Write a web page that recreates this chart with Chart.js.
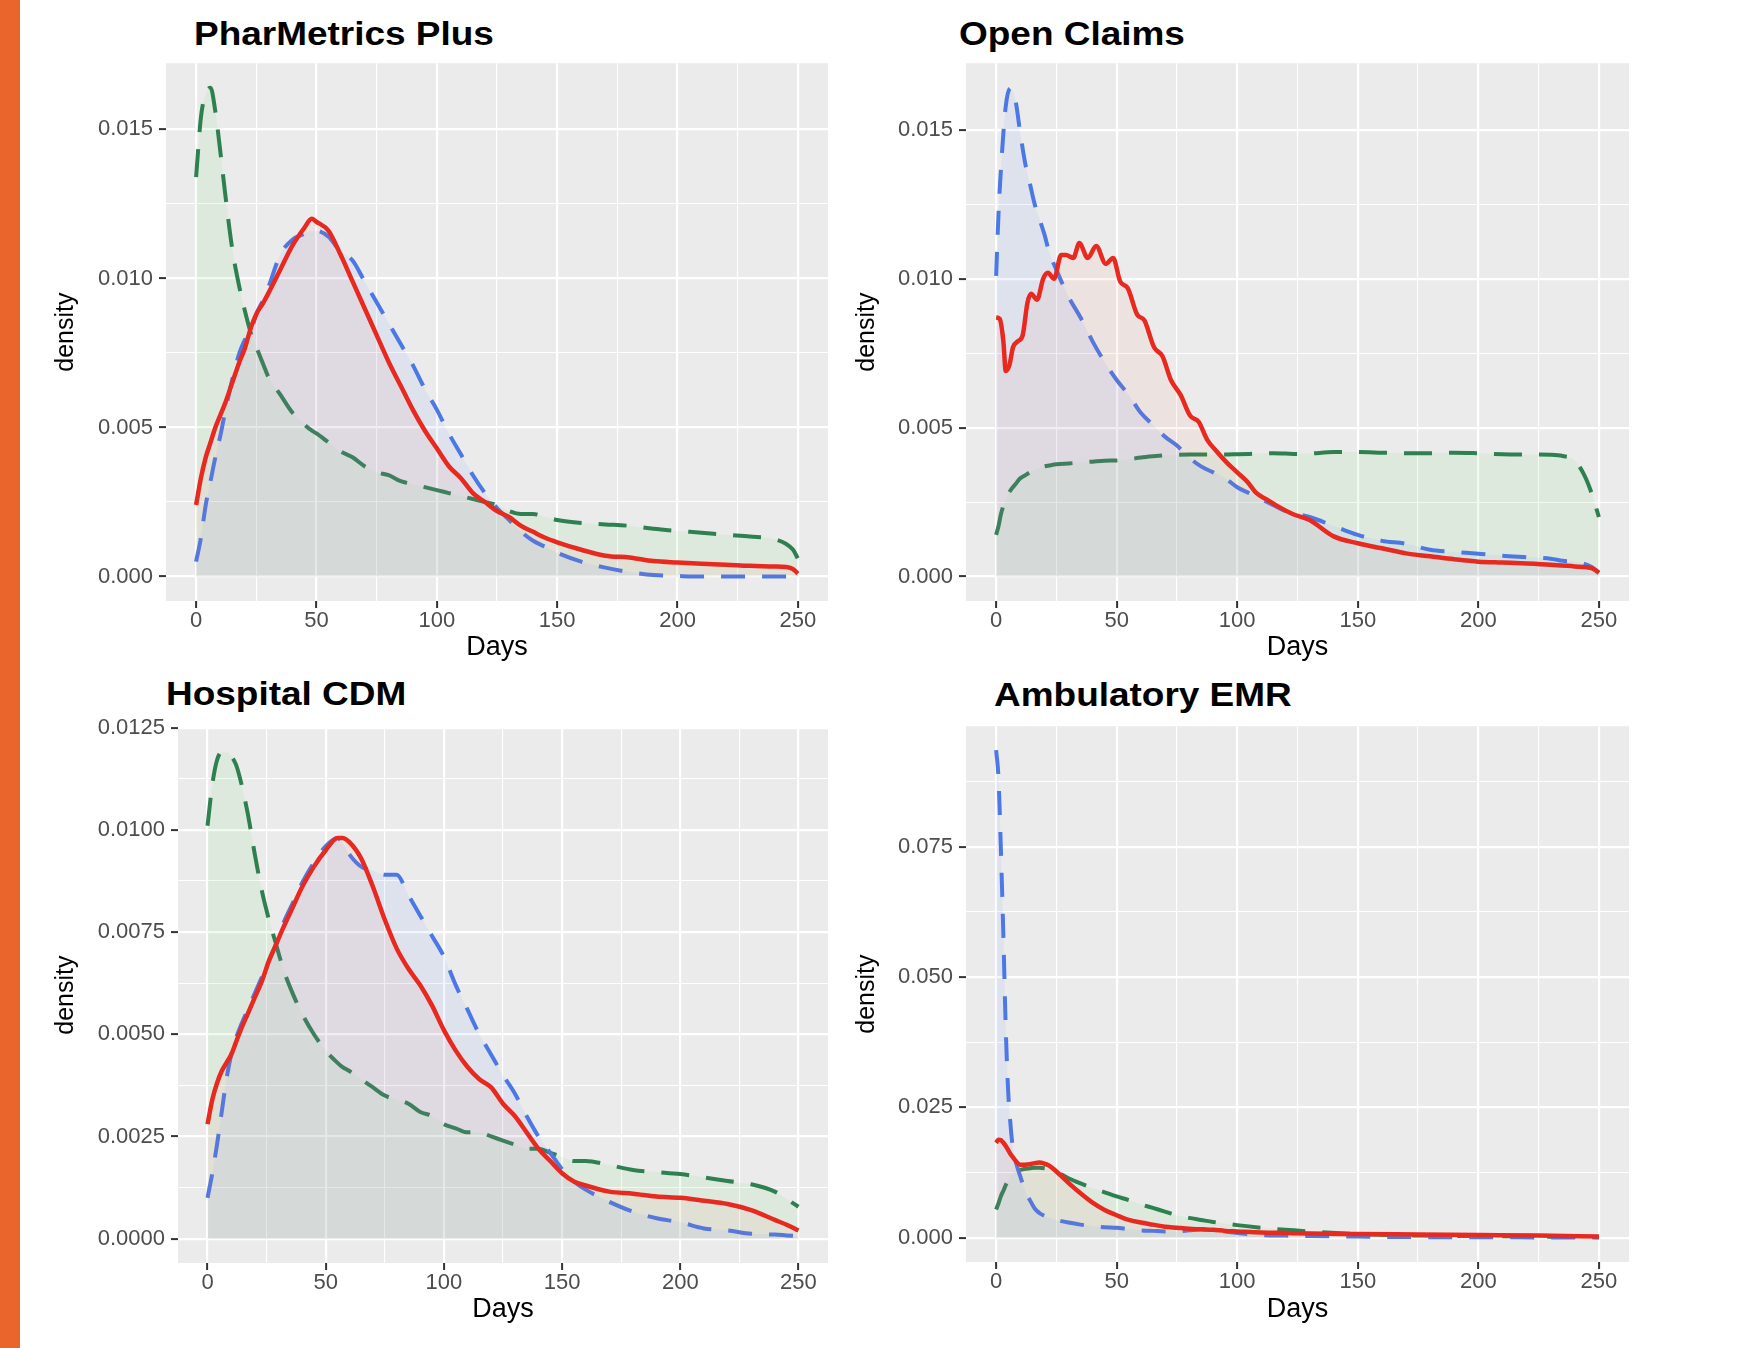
<!DOCTYPE html>
<html>
<head>
<meta charset="utf-8">
<script src="https://cdn.jsdelivr.net/npm/chart.js@4"></script>
<style>
  body { margin: 0; width: 1753px; height: 1348px; background: #fff; position: relative; overflow: hidden;
         font-family: "Liberation Sans", Arial, sans-serif; }
  .bar { position: absolute; left: 0; top: 0; width: 20px; height: 1348px; background: #E8662C; }
  .title { position: absolute; font-weight: bold; font-size: 33px; line-height: 40px; color: #000; white-space: nowrap;
           transform: scaleX(1.12); transform-origin: left center; }
  canvas { position: absolute; }
</style>
</head>
<body>
<div class="bar"></div>
<div class="title" style="left:194px; top:14px;">PharMetrics Plus</div>
<div class="title" style="left:959px; top:14px;">Open Claims</div>
<div class="title" style="left:166px; top:674px;">Hospital CDM</div>
<div class="title" style="left:994px; top:675px;">Ambulatory EMR</div>

<canvas id="c1" width="810" height="626" style="left:30px; top:44px;"></canvas>
<canvas id="c2" width="795" height="626" style="left:845px; top:44px;"></canvas>
<canvas id="c3" width="810" height="624" style="left:30px; top:708px;"></canvas>
<canvas id="c4" width="795" height="625" style="left:845px; top:707px;"></canvas>

<script>
// x axis (same for all four panels)
const xMajor = [0, 50, 100, 150, 200, 250];
const xLabels = ['0', '50', '100', '150', '200', '250'];
const xMinor = [25, 75, 125, 175, 225];

// PharMetrics Plus
const p1Days = [0,2,4,6,8,10,12,15,18,20,23,25,28,30,35,40,45,48,50,55,60,65,70,75,80,85,90,95,100,105,110,115,120,125,130,135,140,145,150,160,170,180,190,200,210,220,230,240,245,248,250];
const p1Red = [0.0024,0.0033,0.0040,0.0045,0.0050,0.0054,0.0058,0.0065,0.0072,0.0076,0.0084,0.0088,0.0092,0.0095,0.0103,0.0111,0.0117,0.0120,0.0119,0.0116,0.0108,0.0099,0.0090,0.0081,0.0072,0.0064,0.0056,0.0049,0.0043,0.0037,0.0033,0.0028,0.0025,0.0022,0.0020,0.0017,0.0015,0.0013,0.00115,0.0009,0.0007,0.00064,0.00052,0.00047,0.00043,0.0004,0.00036,0.00034,0.00032,0.00025,0.0001];
const p1Blue = [0.0005,0.0013,0.0024,0.0032,0.0040,0.0047,0.0055,0.0066,0.0075,0.0079,0.0083,0.0088,0.0093,0.0097,0.0108,0.0113,0.0115,0.0116,0.0116,0.0114,0.0109,0.0106,0.0099,0.0092,0.0085,0.0078,0.0071,0.0063,0.0056,0.0048,0.0041,0.0034,0.0028,0.0023,0.0019,0.0015,0.0012,0.0010,0.0008,0.0005,0.0003,0.00015,0.00005,0.00002,0,0,0,0,0,0,0];
const p1Green = [0.0134,0.0154,0.0162,0.0164,0.0156,0.0143,0.0129,0.0110,0.0097,0.0090,0.0081,0.0077,0.0071,0.0067,0.0061,0.0055,0.0051,0.0049,0.0048,0.0045,0.0042,0.0040,0.0037,0.0035,0.0034,0.0032,0.0031,0.0030,0.0029,0.0028,0.0027,0.0026,0.0025,0.0024,0.0022,0.0021,0.0021,0.0020,0.0019,0.0018,0.00175,0.0017,0.0016,0.00153,0.00147,0.0014,0.00134,0.00126,0.0011,0.0009,0.0006];
const p1YMajor = [0, 0.005, 0.010, 0.015];
const p1YLabels = ['0.000', '0.005', '0.010', '0.015'];
const p1YMinor = [0.0025, 0.0075, 0.0125];

// Open Claims
const p2Days = [0,1,2,4,6,8,10,12,14,16,18,20,22,25,30,35,40,45,50,55,60,65,70,75,80,85,90,95,100,105,110,115,120,125,130,140,150,160,170,180,190,200,210,220,230,235,240,244,247,250];
const p2Blue = [0.0101,0.0122,0.0137,0.0158,0.0164,0.0160,0.0149,0.0139,0.0132,0.0125,0.0120,0.0115,0.0109,0.0103,0.0094,0.0087,0.0079,0.0072,0.0066,0.0061,0.0055,0.0051,0.0047,0.0044,0.0040,0.0037,0.0035,0.0033,0.0030,0.0028,0.0026,0.0024,0.0022,0.0021,0.0020,0.0017,0.0014,0.0012,0.0011,0.0009,0.00083,0.00077,0.0007,0.00065,0.0006,0.00053,0.0005,0.00043,0.00032,0.00014];
const p2Green = [0.0014,0.0017,0.0021,0.0026,0.0029,0.0031,0.0033,0.0034,0.0035,0.0036,0.00365,0.0037,0.00373,0.00377,0.0038,0.00383,0.00386,0.00389,0.0039,0.00394,0.0040,0.00404,0.00407,0.00409,0.0041,0.0041,0.0041,0.0041,0.00411,0.00412,0.00413,0.00414,0.00413,0.00412,0.00413,0.00418,0.00418,0.00416,0.00414,0.00414,0.00416,0.00414,0.00411,0.0041,0.00409,0.00405,0.0039,0.0034,0.0028,0.0020];
const p2RedDays = [0,1.5,3,4,5.5,7,9,11,13,14.5,17,19.5,21.5,24,27,29,32,34.5,38,41.5,45.5,48.5,51.5,54.5,58.5,61.5,65.5,69,72.5,76.5,80.5,84,87.5,91.5,96,100,104,108,112,116,123,130,140,150,160,170,180,190,200,210,220,230,240,245,248,250];
const p2Red = [0.0087,0.00865,0.0079,0.0069,0.0071,0.0077,0.0079,0.0081,0.0092,0.0095,0.0093,0.0100,0.0102,0.0100,0.0108,0.0108,0.0107,0.0112,0.0107,0.0111,0.0105,0.0107,0.0099,0.0097,0.0088,0.0086,0.0077,0.0074,0.0066,0.0061,0.0054,0.0052,0.0046,0.0042,0.0038,0.0035,0.0032,0.0028,0.0026,0.0024,0.0021,0.0019,0.00135,0.00112,0.00095,0.00078,0.00068,0.00058,0.0005,0.00047,0.00044,0.0004,0.00034,0.00031,0.00025,0.00012];
const p2YMajor = [0, 0.005, 0.010, 0.015];
const p2YLabels = ['0.000', '0.005', '0.010', '0.015'];
const p2YMinor = [0.0025, 0.0075, 0.0125];

// Hospital CDM
const p3Days = [0,2,4,6,8,10,12,14,17,20,23,26,29,32,36,40,45,50,55,57,60,65,70,75,80,85,90,95,100,105,110,115,120,125,130,135,140,145,150,155,160,170,180,190,200,210,220,230,240,245,250];
const p3Red = [0.0028,0.0034,0.0038,0.0041,0.0043,0.0045,0.0048,0.0051,0.0055,0.0059,0.0063,0.0068,0.0072,0.0076,0.0081,0.0086,0.0091,0.0095,0.0098,0.0098,0.0097,0.0093,0.0086,0.0078,0.0071,0.0066,0.0062,0.0057,0.0051,0.0046,0.0042,0.0039,0.0037,0.0033,0.0030,0.0026,0.0022,0.0019,0.0016,0.0014,0.0013,0.00115,0.0011,0.00103,0.0010,0.00093,0.00085,0.0007,0.00046,0.00034,0.0002];
const p3Blue = [0.0010,0.0016,0.0023,0.0031,0.0039,0.0045,0.0049,0.0052,0.0056,0.0060,0.0064,0.0068,0.0072,0.0077,0.0082,0.0087,0.0092,0.0096,0.0098,0.0097,0.0094,0.0091,0.0090,0.0089,0.0089,0.0084,0.0079,0.0074,0.0069,0.0062,0.0056,0.0050,0.0045,0.0040,0.00355,0.0030,0.0025,0.0021,0.0017,0.0014,0.0012,0.0009,0.00066,0.0005,0.0004,0.00025,0.0002,0.00012,0.0001,0.00008,0.00006];
const p3Green = [0.0101,0.0111,0.0117,0.0119,0.0119,0.0118,0.0116,0.0112,0.0104,0.0094,0.0085,0.0078,0.0072,0.0066,0.0060,0.0055,0.0050,0.0046,0.0043,0.0042,0.0041,0.0039,0.0037,0.0035,0.0034,0.0033,0.0031,0.0030,0.0028,0.0027,0.0026,0.0026,0.0025,0.0024,0.0023,0.0022,0.0022,0.0021,0.0020,0.0019,0.0019,0.0018,0.00168,0.00163,0.00158,0.0015,0.00141,0.00133,0.00115,0.00097,0.00078];
const p3YMajor = [0, 0.0025, 0.005, 0.0075, 0.01, 0.0125];
const p3YLabels = ['0.0000', '0.0025', '0.0050', '0.0075', '0.0100', '0.0125'];
const p3YMinor = [0.00125, 0.00375, 0.00625, 0.00875, 0.01125];

// Ambulatory EMR
const p4Days = [0,1,2,3,4,5,6,7,8.5,10,12,14,16,18,20,22,25,30,35,40,45,50,55,60,65,70,75,80,85,90,95,100,110,120,130,150,175,200,225,250];
const p4Red = [0.0182,0.0188,0.0187,0.0182,0.0176,0.0168,0.0160,0.0154,0.0145,0.0140,0.0140,0.0141,0.0143,0.0144,0.0142,0.0138,0.0127,0.0105,0.0085,0.0067,0.0053,0.0043,0.0034,0.0029,0.0025,0.0021,0.0019,0.0017,0.0016,0.0015,0.0013,0.0012,0.0010,0.0009,0.0008,0.0007,0.0006,0.0005,0.0004,0.0002];
const p4Blue = [0.0935,0.0880,0.0740,0.0580,0.0400,0.0280,0.0215,0.0170,0.0140,0.0118,0.0090,0.0072,0.0056,0.0047,0.0042,0.0038,0.0034,0.0029,0.0025,0.0022,0.0020,0.0019,0.0016,0.0014,0.0013,0.0012,0.0012,0.0014,0.0016,0.0015,0.0012,0.0009,0.0005,0.0004,0.0003,0.0002,0.0001,0.0001,0.00005,0.00003];
const p4Green = [0.0054,0.0066,0.0080,0.0090,0.0101,0.0110,0.0118,0.0124,0.0128,0.0130,0.0132,0.0133,0.0134,0.0134,0.0133,0.0131,0.0126,0.0114,0.0104,0.0095,0.0087,0.0079,0.0072,0.0064,0.0057,0.0050,0.0043,0.0038,0.0034,0.0030,0.0027,0.0024,0.0019,0.0015,0.0012,0.0007,0.0004,0.0003,0.0002,0.0001];
const p4YMajor = [0, 0.025, 0.05, 0.075];
const p4YLabels = ['0.000', '0.025', '0.050', '0.075'];
const p4YMinor = [0.0125, 0.0375, 0.0625, 0.0875];

const FONT = '"Liberation Sans", Arial, sans-serif';

// grey ggplot panel behind the grid
const panelBg = {
  id: 'panelBg',
  beforeDraw(chart) {
    const {ctx, chartArea: a} = chart;
    ctx.save();
    ctx.fillStyle = '#EBEBEB';
    ctx.fillRect(a.left, a.top, a.right - a.left, a.bottom - a.top);
    ctx.restore();
  }
};

function pts(days, vals) {
  return days.map((d, i) => ({x: d, y: vals[i]}));
}

function axis(min, max, major, labels, minor, size, title, titleSize, titlePad, tickPad) {
  const all = major.concat(minor).sort((a, b) => a - b);
  return {
    type: 'linear',
    min: min,
    max: max,
    bounds: 'data',
    afterBuildTicks: s => { s.ticks = all.map(v => ({value: v})); },
    afterFit: s => {
      if (s.isHorizontal()) s.height = size; else s.width = size;
    },
    border: {display: false},
    grid: {
      color: '#FFFFFF',
      lineWidth: c => major.includes(c.tick.value) ? 2.2 : 1.1,
      tickColor: c => major.includes(c.tick.value) ? '#333333' : 'rgba(0,0,0,0)',
      tickWidth: 2,
      tickLength: 7
    },
    ticks: {
      autoSkip: false,
      maxRotation: 0,
      padding: tickPad,
      color: '#4D4D4D',
      font: {family: FONT, size: 22},
      callback: v => {
        const i = major.indexOf(v);
        return i >= 0 ? labels[i] : '';
      }
    },
    title: {
      display: true,
      text: title,
      color: '#000',
      font: {family: FONT, size: titleSize},
      padding: titlePad
    }
  };
}

function makePanel(id, p) {
  new Chart(document.getElementById(id), {
    type: 'line',
    data: {
      datasets: [
        {label: 'red', data: p.red, borderColor: '#E8291F', borderWidth: 4.5,
         backgroundColor: 'rgba(255,110,90,0.07)', fill: 'origin'},
        {label: 'blue', data: p.blue, borderColor: '#4C78E6', borderWidth: 4, borderDash: [24, 17],
         backgroundColor: 'rgba(90,140,255,0.09)', fill: 'origin'},
        {label: 'green', data: p.green, borderColor: '#2E8050', borderWidth: 4, borderDash: [28, 17],
         backgroundColor: 'rgba(110,215,110,0.10)', fill: 'origin'}
      ]
    },
    options: {
      responsive: false,
      animation: false,
      layout: {padding: {top: 16, right: p.padRight, left: 0, bottom: 0}},
      elements: {
        point: {radius: 0},
        line: {cubicInterpolationMode: 'monotone'}
      },
      plugins: {legend: {display: false}, tooltip: {enabled: false}},
      scales: {
        x: axis(-12.5, 262.5, xMajor, xLabels, xMinor, p.xHeight, 'Days', 27, {top: 0, bottom: p.daysPad}, 0),
        y: axis(p.yMin, p.yMax, p.yMajor, p.yLabels, p.yMinor, p.yWidth, 'density', 25, {top: p.densPad, bottom: 0}, 6)
      }
    },
    plugins: [panelBg]
  });
}

makePanel('c1', {
  red: pts(p1Days, p1Red), blue: pts(p1Days, p1Blue), green: pts(p1Days, p1Green),
  yMin: -0.00082, yMax: 0.01722, yMajor: p1YMajor, yLabels: p1YLabels, yMinor: p1YMinor,
  yWidth: 136, xHeight: 69, padRight: 12, densPad: 21, daysPad: 6
});
makePanel('c2', {
  red: pts(p2RedDays, p2Red), blue: pts(p2Days, p2Blue), green: pts(p2Days, p2Green),
  yMin: -0.00082, yMax: 0.01724, yMajor: p2YMajor, yLabels: p2YLabels, yMinor: p2YMinor,
  yWidth: 121, xHeight: 69, padRight: 11, densPad: 7, daysPad: 6
});
makePanel('c3', {
  red: pts(p3Days, p3Red), blue: pts(p3Days, p3Blue), green: pts(p3Days, p3Green),
  yMin: -0.000595, yMax: 0.01251, yMajor: p3YMajor, yLabels: p3YLabels, yMinor: p3YMinor,
  yWidth: 148, xHeight: 69, padRight: 12, densPad: 21, daysPad: 6
});
makePanel('c4', {
  red: pts(p4Days, p4Red), blue: pts(p4Days, p4Blue), green: pts(p4Days, p4Green),
  yMin: -0.00467, yMax: 0.0981, yMajor: p4YMajor, yLabels: p4YLabels, yMinor: p4YMinor,
  yWidth: 121, xHeight: 70, padRight: 11, densPad: 7, daysPad: 6
});
</script>
</body>
</html>
